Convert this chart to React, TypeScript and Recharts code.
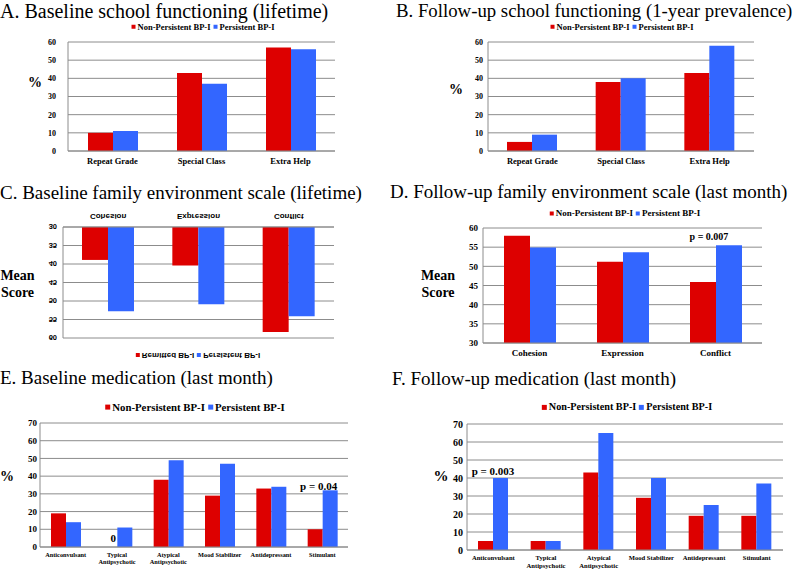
import React from "react";
import { BarChart, Bar, XAxis, YAxis, CartesianGrid, LabelList } from "recharts";

const RED = "#DD0000";
const BLUE = "#3366FF";
const GRID = "#8C8C8C";
const SERIF = "'Liberation Serif', 'Times New Roman', serif";
const SANS = "'Liberation Sans', Arial, sans-serif";

// A / B: school functioning (%)
const schoolCategories = ["Repeat Grade", "Special Class", "Extra Help"];
const baseSchoolNonPersistent = [10, 43, 57];
const baseSchoolPersistent = [11, 37, 56];
const followSchoolNonPersistent = [5, 38, 43];
const followSchoolPersistent = [9, 40, 58];
const pctTicks60 = [0, 10, 20, 30, 40, 50, 60];

// C / D: family environment scale (mean score)
const familyCategories = ["Cohesion", "Expression", "Conflict"];
const baseFamilyRemitted = [38.9, 40.4, 58.4];
const baseFamilyPersistent = [52.8, 50.9, 54.1];
const followFamilyNonPersistent = [58, 51.2, 45.9];
const followFamilyPersistent = [54.9, 53.7, 55.5];
const followFamilyNotes = ["", "", "p = 0.007"];
const scoreTicks = [30, 35, 40, 45, 50, 55, 60];

// E / F: medication (%)
const medCategories = [
  "Anticonvulsant",
  "Typical\nAntipsychotic",
  "Atypical\nAntipsychotic",
  "Mood Stabilizer",
  "Antidepressant",
  "Stimulant",
];
const baseMedNonPersistent = [19, 0, 38, 29, 33, 10];
const baseMedPersistent = [14, 11, 49, 47, 34, 32];
const baseMedZeroLabels = ["", "0", "", "", "", ""];
const baseMedNotes = ["", "", "", "", "", "p = 0.04"];
const followMedNonPersistent = [5, 5, 43, 29, 19, 19];
const followMedPersistent = [40, 5, 65, 40, 25, 37];
const followMedNotes = ["p = 0.003", "", "", "", "", ""];
const pctTicks70 = [0, 10, 20, 30, 40, 50, 60, 70];

const nonPersistentLegend = ["Non-Persistent BP-I", "Persistent BP-I"];
const remittedLegend = ["Remitted BP-I", "Persistent BP-I"];

type Row = { cat: string; a: number; b: number; zero: string; note: string };

const rows = (cats: string[], a: number[], b: number[], note?: string[], zero?: string[]): Row[] =>
  cats.map((c, i) => ({ cat: c, a: a[i], b: b[i], zero: zero ? zero[i] : "", note: note ? note[i] : "" }));

type Plot = { left: number; top: number; right: number; bottom: number };

interface PanelProps {
  data: Row[];
  plot: Plot;
  domain: [number, number];
  ticks: number[];
  barSize: number;
  font: string;
  tickFs: number;
  tickGap: number;
  xFs: number;
  xDy: number;
  xLh?: number;
  noteFs?: number;
  noteDx?: number;
  noteDy?: number;
  zeroDx?: number;
  zeroDy?: number;
}

const YW = 40;
const MT = 12;
const MR = 6;
const XH = 34;

const Panel = (p: PanelProps) => {
  const w = p.plot.right - p.plot.left + YW + MR;
  const h = p.plot.bottom - p.plot.top + MT + XH;

  const xTick = (props: any) => {
    const { x, y, payload } = props;
    const lines = String(payload.value).split("\n");
    return (
      <g>
        {lines.map((l, i) => (
          <text
            key={i}
            x={x}
            y={y + p.xDy + i * (p.xLh || 0)}
            textAnchor="middle"
            fontSize={p.xFs}
            fontFamily={p.font}
            fontWeight="bold"
            fill="#000"
          >
            {l}
          </text>
        ))}
      </g>
    );
  };

  // p-value note above the persistent bar, anchored at the category centre
  const noteLabel = (props: any) => {
    const { x, y, value } = props;
    if (!value) return null;
    return (
      <text
        x={Number(x) + (p.noteDx || 0)}
        y={Number(y) + (p.noteDy || 0)}
        textAnchor="middle"
        fontSize={p.noteFs}
        fontFamily={SERIF}
        fontWeight="bold"
        fill="#000"
      >
        {value}
      </text>
    );
  };

  // "0" marker sitting on the baseline where the red bar is empty
  const zeroLabel = (props: any) => {
    const { x, y, height, value } = props;
    if (!value) return null;
    return (
      <text
        x={Number(x) + (p.zeroDx || 0)}
        y={Number(y) + Number(height) + (p.zeroDy || 0)}
        textAnchor="middle"
        fontSize={p.noteFs}
        fontFamily={SERIF}
        fontWeight="bold"
        fill="#000"
      >
        {value}
      </text>
    );
  };

  return (
    <div style={{ position: "absolute", left: p.plot.left - YW, top: p.plot.top - MT }}>
      <BarChart
        width={w}
        height={h}
        data={p.data}
        margin={{ top: MT, right: MR, left: 0, bottom: 0 }}
        barGap={0}
      >
        <CartesianGrid vertical={false} stroke={GRID} />
        <XAxis
          dataKey="cat"
          height={XH}
          interval={0}
          tickLine={false}
          tickSize={0}
          tickMargin={0}
          axisLine={{ stroke: GRID }}
          tick={xTick}
        />
        <YAxis
          type="number"
          width={YW}
          domain={p.domain}
          ticks={p.ticks}
          interval={0}
          tickLine={false}
          tickSize={0}
          tickMargin={p.tickGap}
          axisLine={{ stroke: GRID }}
          tick={{ fontSize: p.tickFs, fontFamily: p.font, fontWeight: "bold", fill: "#000" }}
        />
        <Bar dataKey="a" fill={RED} barSize={p.barSize} isAnimationActive={false} />
        <Bar dataKey="b" fill={BLUE} barSize={p.barSize} isAnimationActive={false}>
          <LabelList dataKey="note" content={noteLabel} />
          <LabelList dataKey="zero" content={zeroLabel} />
        </Bar>
      </BarChart>
    </div>
  );
};

const Title = ({ x, baseline, text, fs = 19 }: { x: number; baseline: number; text: string; fs?: number }) => (
  <div
    style={{
      position: "absolute",
      left: x,
      top: Math.max(0, baseline - 0.7 * fs),
      fontFamily: SERIF,
      fontSize: fs,
      lineHeight: `${Math.round(fs * 0.7)}px`,
      whiteSpace: "nowrap",
      color: "#000",
    }}
  >
    {text}
  </div>
);

const Legend = ({
  cx,
  cy,
  fs,
  sq,
  font,
  labels,
  gap,
}: {
  cx: number;
  cy: number;
  fs: number;
  sq: number;
  font: string;
  labels: string[];
  gap: number;
}) => (
  <div
    style={{
      position: "absolute",
      left: cx,
      top: cy,
      transform: "translate(-50%, -50%)",
      display: "flex",
      alignItems: "center",
      whiteSpace: "nowrap",
      fontFamily: font,
      fontWeight: "bold",
      fontSize: fs,
      lineHeight: 1,
      color: "#000",
    }}
  >
    {labels.map((l, i) => (
      <span key={i} style={{ display: "flex", alignItems: "center", marginLeft: i ? gap : 0 }}>
        <span style={{ width: sq, height: sq, background: i ? BLUE : RED, marginRight: 2 }} />
        {l}
      </span>
    ))}
  </div>
);

const AxisLabel = ({ cx, cy, fs, lines }: { cx: number; cy: number; fs: number; lines: string[] }) => (
  <div
    style={{
      position: "absolute",
      left: cx,
      top: cy,
      transform: "translate(-50%, -50%)",
      fontFamily: SERIF,
      fontWeight: "bold",
      fontSize: fs,
      lineHeight: `${fs + 3}px`,
      textAlign: "center",
      whiteSpace: "nowrap",
      color: "#000",
    }}
  >
    {lines.map((l, i) => (
      <div key={i}>{l}</div>
    ))}
  </div>
);

export default function App() {
  return (
    <div style={{ position: "absolute", left: 0, top: 0, width: 800, height: 569, background: "#fff", overflow: "hidden" }}>
      {/* A */}
      <Title x={0} baseline={17.5} fs={20} text="A. Baseline school functioning (lifetime)" />
      <Legend cx={203} cy={27} fs={8.5} sq={4} font={SERIF} labels={nonPersistentLegend} gap={3} />
      <AxisLabel cx={35} cy={82} fs={14} lines={["%"]} />
      <Panel
        data={rows(schoolCategories, baseSchoolNonPersistent, baseSchoolPersistent)}
        plot={{ left: 68, top: 42, right: 335, bottom: 151 }}
        domain={[0, 60]}
        ticks={pctTicks60}
        barSize={25}
        font={SERIF}
        tickFs={8}
        tickGap={12}
        xFs={8.5}
        xDy={13}
      />

      {/* B */}
      <Title x={396} baseline={17.5} fs={18.8} text="B. Follow-up school functioning (1-year prevalence)" />
      <Legend cx={622} cy={27} fs={8.5} sq={4} font={SERIF} labels={nonPersistentLegend} gap={3} />
      <AxisLabel cx={456} cy={89} fs={14} lines={["%"]} />
      <Panel
        data={rows(schoolCategories, followSchoolNonPersistent, followSchoolPersistent)}
        plot={{ left: 488, top: 42, right: 754, bottom: 151 }}
        domain={[0, 60]}
        ticks={pctTicks60}
        barSize={25}
        font={SERIF}
        tickFs={8}
        tickGap={5}
        xFs={8.5}
        xDy={13}
      />

      {/* C (vertically mirrored chart) */}
      <Title x={0} baseline={199} text="C. Baseline family environment scale (lifetime)" />
      <AxisLabel cx={17.5} cy={283.5} fs={14} lines={["Mean", "Score"]} />
      <div style={{ position: "absolute", left: 0, top: 205, width: 400, height: 160, transform: "scaleY(-1)" }}>
        <Legend cx={198} cy={10} fs={8} sq={4} font={SANS} labels={remittedLegend} gap={3} />
        <Panel
          data={rows(familyCategories, baseFamilyRemitted, baseFamilyPersistent)}
          plot={{ left: 63, top: 27, right: 334, bottom: 138 }}
          domain={[30, 60]}
          ticks={scoreTicks}
          barSize={26}
          font={SANS}
          tickFs={7.5}
          tickGap={6}
          xFs={8}
          xDy={13}
        />
      </div>

      {/* D */}
      <Title x={390} baseline={198} text="D. Follow-up family environment scale (last month)" />
      <Legend cx={625} cy={213} fs={9} sq={4} font={SERIF} labels={nonPersistentLegend} gap={3} />
      <AxisLabel cx={438} cy={283.5} fs={14} lines={["Mean", "Score"]} />
      <Panel
        data={rows(familyCategories, followFamilyNonPersistent, followFamilyPersistent, followFamilyNotes)}
        plot={{ left: 483, top: 228, right: 762, bottom: 343 }}
        domain={[30, 60]}
        ticks={scoreTicks}
        barSize={26}
        font={SERIF}
        tickFs={9}
        tickGap={5}
        xFs={9}
        xDy={13}
        noteFs={10}
        noteDx={-7}
        noteDy={-5}
      />

      {/* E */}
      <Title x={0} baseline={384} text="E. Baseline medication (last month)" />
      <Legend cx={195} cy={407} fs={10.8} sq={5} font={SERIF} labels={nonPersistentLegend} gap={3} />
      <AxisLabel cx={7} cy={476} fs={14} lines={["%"]} />
      <Panel
        data={rows(medCategories, baseMedNonPersistent, baseMedPersistent, baseMedNotes, baseMedZeroLabels)}
        plot={{ left: 40, top: 423, right: 348, bottom: 547 }}
        domain={[0, 70]}
        ticks={pctTicks70}
        barSize={15}
        font={SERIF}
        tickFs={9}
        tickGap={3}
        xFs={6.3}
        xDy={9.5}
        xLh={7.5}
        noteFs={11}
        noteDx={-4}
        noteDy={0}
        zeroDx={-4}
        zeroDy={-5}
      />

      {/* F */}
      <Title x={392} baseline={385} text="F. Follow-up medication (last month)" />
      <Legend cx={627} cy={407} fs={10.2} sq={5} font={SERIF} labels={nonPersistentLegend} gap={3} />
      <AxisLabel cx={441} cy={476} fs={15} lines={["%"]} />
      <Panel
        data={rows(medCategories, followMedNonPersistent, followMedPersistent, followMedNotes)}
        plot={{ left: 467, top: 424, right: 783, bottom: 550 }}
        domain={[0, 70]}
        ticks={pctTicks70}
        barSize={15}
        font={SERIF}
        tickFs={10}
        tickGap={4}
        xFs={6.6}
        xDy={10}
        xLh={7.5}
        noteFs={11}
        noteDx={0}
        noteDy={-3}
      />
    </div>
  );
}
